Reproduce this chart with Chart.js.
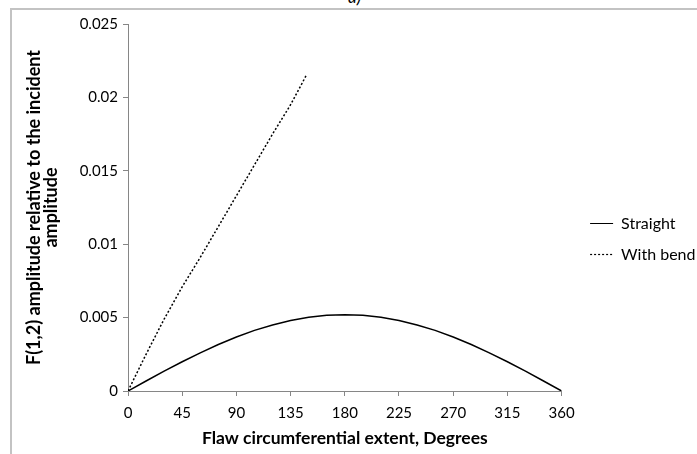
<!DOCTYPE html>
<html>
<head>
<meta charset="utf-8">
<script src="https://cdn.jsdelivr.net/npm/chart.js@4"></script>
<style>
  body { margin: 0; background: #fff; overflow: hidden; }
  #wrap { position: relative; width: 697px; height: 454px; overflow: hidden; }
  #frame { position: absolute; left: 10px; top: 8px; right: -4px; bottom: -4px;
           border-top: 2px solid #c3c3c3; border-left: 2px solid #c3c3c3; }
  #tag { position: absolute; left: 348px; top: -14px; font: italic 17px Lato, sans-serif; color: #000; }
  canvas { position: absolute; left: 0; top: 0; }
</style>
</head>
<body>
<div id="wrap">
  <div id="tag">a)</div>
  <div id="frame"></div>
  <canvas id="graphCanvas" width="697" height="454"></canvas>
</div>
<script>
// flaw extent in degrees
let angles = [0, 15, 30, 45, 60, 75, 90, 105, 120, 135, 150, 165, 180,
  195, 210, 225, 240, 255, 270, 285, 300, 315, 330, 345, 360];
let straight = [0, 0.00068, 0.00135, 0.00199, 0.0026, 0.00317, 0.00368, 0.00413, 0.0045,
  0.0048, 0.00502, 0.00516, 0.0052, 0.00516, 0.00502, 0.0048, 0.0045, 0.00413, 0.00368,
  0.00317, 0.0026, 0.00199, 0.00135, 0.00068, 0];

let bendAngles = [0, 15, 30, 45, 60, 75, 90, 105, 120, 135, 148];
let withBend = [0, 0.0025, 0.0049, 0.0071, 0.0091, 0.0112, 0.0133, 0.0154, 0.0175, 0.0195, 0.0215];

let xTicks = [0, 45, 90, 135, 180, 225, 270, 315, 360];
let yTicks = [0, 0.005, 0.01, 0.015, 0.02, 0.025];

let fontFam = 'Lato, "Open Sans", sans-serif';
let axisGrey = '#868686';

function pairs(xs, ys) {
  let out = [];
  for (let i in xs) {
    out.push({ x: xs[i], y: ys[i] });
  }
  return out;
}

// push the legend a bit away from the plot (it runs to the right edge like the original)
let legendShift = {
  id: 'legendShift',
  afterLayout: function(chart) {
    chart.legend.left += 13.5;
    chart.legend.right += 13.5;
  }
};

let chartdata = {
  datasets: [{
    label: 'Straight',
    borderColor: '#000000',
    backgroundColor: '#000000',
    borderWidth: 1.5,
    pointRadius: 0,
    fill: false,
    data: pairs(angles, straight)
  }, {
    label: 'With bend',
    borderColor: '#000000',
    backgroundColor: '#000000',
    borderWidth: 1.5,
    borderDash: [2, 2],
    pointRadius: 0,
    fill: false,
    data: pairs(bendAngles, withBend)
  }]
};

let graphTarget = document.getElementById('graphCanvas');
let lineGraph = new Chart(graphTarget, {
  type: 'line',
  data: chartdata,
  plugins: [legendShift],
  options: {
    responsive: false,
    animation: false,
    layout: { padding: { left: 20, top: 24, right: 5, bottom: 0 } },
    plugins: {
      tooltip: { enabled: false },
      legend: {
        position: 'right',
        labels: {
          usePointStyle: true,
          pointStyle: 'line',
          pointStyleWidth: 23,
          color: '#000',
          padding: 15,
          font: { family: fontFam, size: 16 },
          generateLabels: function(chart) {
            let items = Chart.defaults.plugins.legend.labels.generateLabels(chart);
            items.forEach(function(item, i) {
              item.lineDash = chart.data.datasets[i].borderDash || [];
              item.lineWidth = 1.2;
            });
            return items;
          }
        }
      }
    },
    scales: {
      x: {
        type: 'linear',
        min: 0,
        max: 360,
        afterBuildTicks: function(scale) {
          scale.ticks = xTicks.map(v => ({ value: v }));
        },
        afterFit: function(scale) { scale.height = 63; },
        grid: { drawOnChartArea: false, drawTicks: true, tickLength: 5, color: axisGrey },
        border: { display: true, color: axisGrey, width: 1 },
        ticks: {
          color: '#000',
          padding: 8.5,
          maxRotation: 0,
          font: { family: fontFam, size: 15 }
        },
        title: {
          display: true,
          text: 'Flaw circumferential extent, Degrees',
          color: '#000',
          padding: { top: 0, bottom: 5 },
          font: { family: fontFam, size: 17.5, weight: 'bold' }
        }
      },
      y: {
        min: 0,
        max: 0.025,
        afterBuildTicks: function(scale) {
          scale.ticks = yTicks.map(v => ({ value: v }));
        },
        afterFit: function(scale) { scale.width = 108; },
        grid: { drawOnChartArea: false, drawTicks: true, tickLength: 5, color: axisGrey },
        border: { display: true, color: axisGrey, width: 1 },
        ticks: {
          color: '#000',
          padding: 5,
          font: { family: fontFam, size: 15 },
          callback: function(v) { return String(+v.toFixed(3)); }
        },
        title: {
          display: true,
          text: ['F(1,2) amplitude relative to the incident', 'amplitude'],
          color: '#000',
          padding: { top: 6, bottom: 4 },
          font: { family: fontFam, size: 18, weight: 'bold', lineHeight: '17px' }
        }
      }
    }
  }
});
</script>
</body>
</html>
